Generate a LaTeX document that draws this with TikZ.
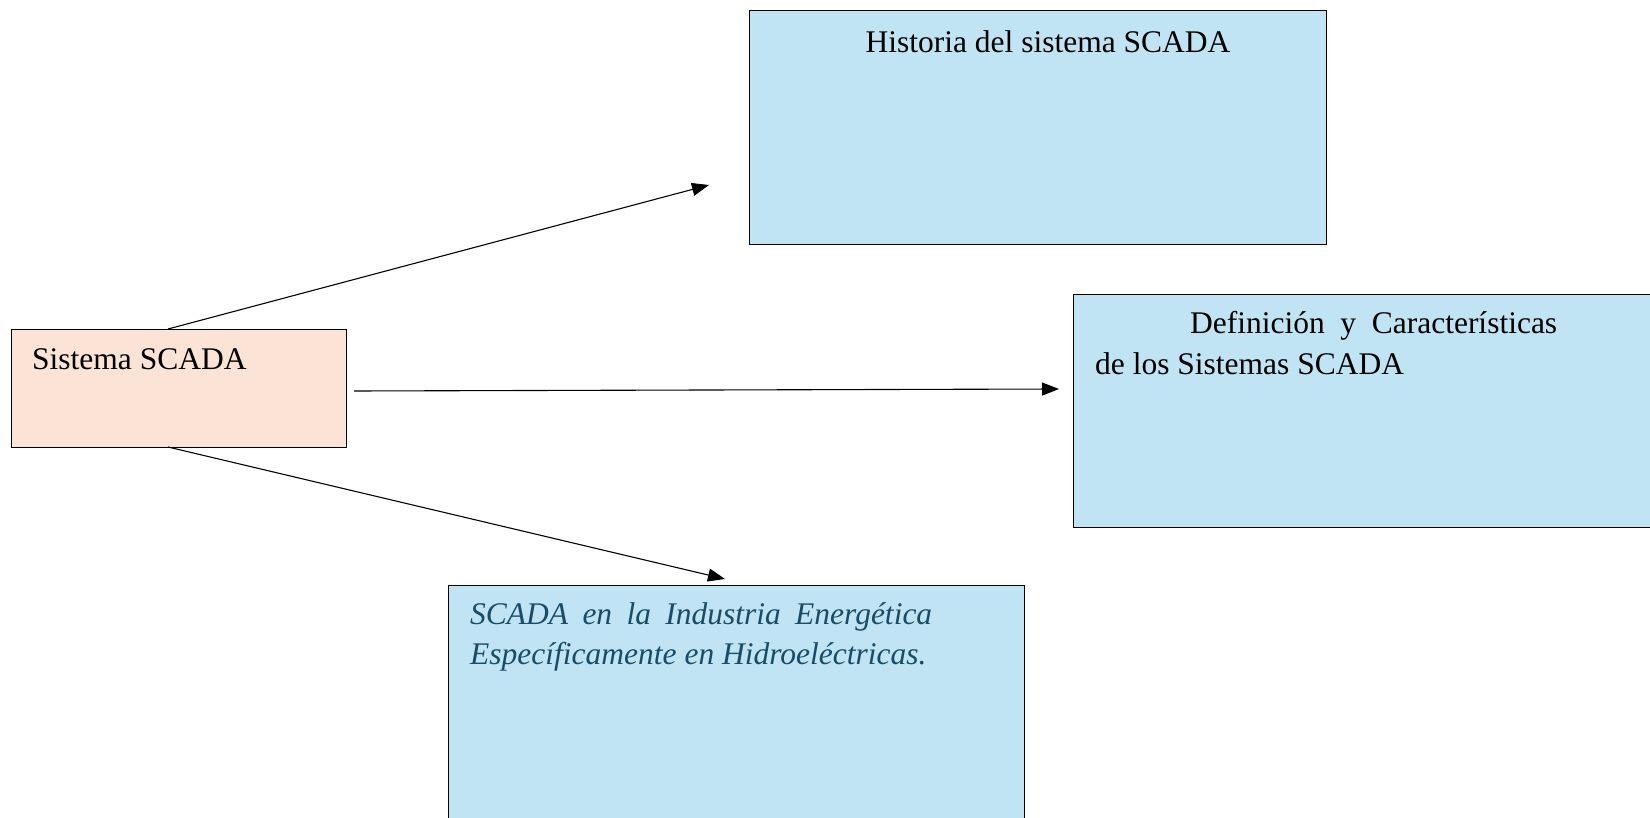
\documentclass[tikz,border=0pt]{standalone}
\usepackage{fontspec}
\setmainfont{Liberation Serif}
\usetikzlibrary{arrows.meta}
\usetikzlibrary{positioning}
\definecolor{boxblue}{RGB}{192,228,243}
\definecolor{boxpeach}{RGB}{251,227,214}
\definecolor{textteal}{RGB}{26,76,104}

\tikzset{
  topicbox/.style={draw=black, line width=1.1pt, fill=boxblue, inner sep=0pt, anchor=north west},
  link/.style={line width=1.1pt, -{Triangle[length=17pt,width=13pt]}},
  txt/.style={inner sep=0pt, anchor=base west, font=\fontsize{31.5}{36}\selectfont}
}

\begin{document}
\begin{tikzpicture}[x=1pt,y=-1pt]
      \useasboundingbox (0,0) rectangle (1650,818);
      % boxes
      \node[topicbox, fill=boxpeach, minimum width=335pt, minimum height=118pt] (sis) at (11,329) {};
      \node[topicbox, minimum width=577pt, minimum height=234pt] (hist) at (749,10) {};
      \node[topicbox, minimum width=577pt, minimum height=233pt] (defi) at (1073,294) {};
      \node[topicbox, minimum width=576pt, minimum height=260pt] (ind) at (448,585) {};
      % texts
      \node[txt] (sistxt) at (32,370) {Sistema SCADA};
      \node[txt, anchor=base] (histxt) at (1048,53) {Historia del sistema SCADA};
      \node[txt] (defa) at (1190,334) {\makebox[367pt][s]{Definición y Características}};
      \node[txt] (defb) at (1095,374) {de los Sistemas SCADA};
      \node[txt, text=textteal] (inda) at (470,624) {\itshape\makebox[462pt][s]{SCADA en la Industria Energética}};
      \node[txt, text=textteal] (indb) at (470,664) {\itshape Específicamente en Hidroeléctricas.};
      % connectors
      \coordinate (s1) at (168,329);
      \coordinate (s2) at (354,391);
      \coordinate (s3) at (168,447);
      \coordinate (e1) at (709,185);
      \coordinate (e2) at (1059,389);
      \coordinate (e3) at (725,579);
      \draw[link] (s1) -- (e1);
      \draw[link] (s2) -- (e2);
      \draw[link] (s3) -- (e3);
\end{tikzpicture}
\end{document}
